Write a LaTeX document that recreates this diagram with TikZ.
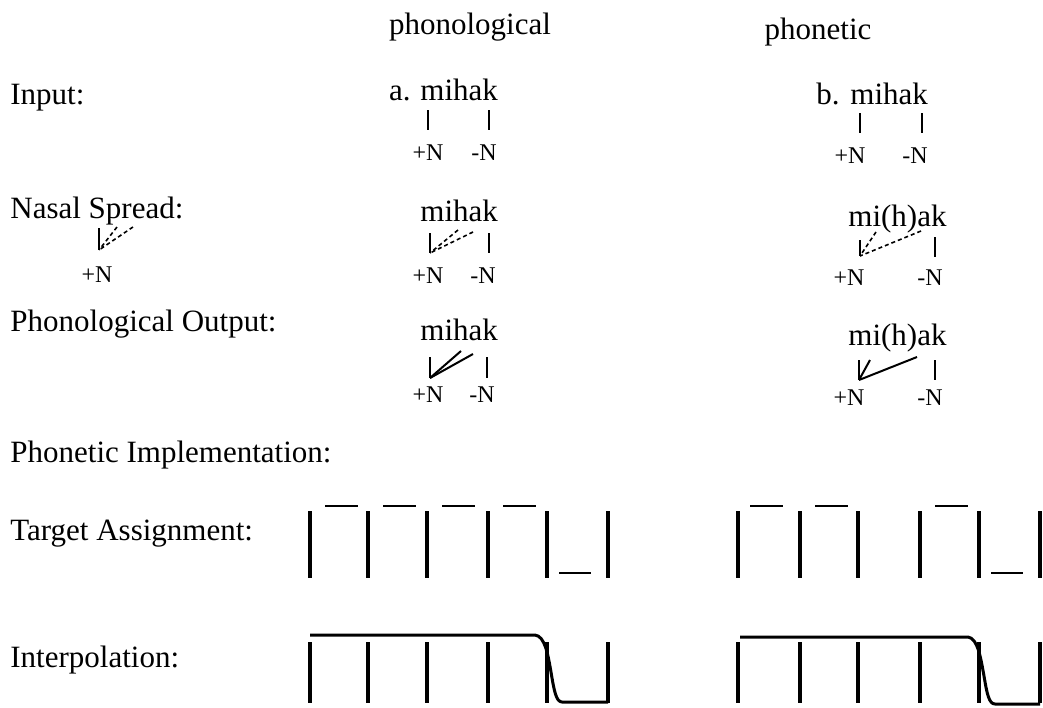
\documentclass[tikz,border=0pt]{standalone}
\usepackage{fontspec}
\setmainfont{Liberation Serif}
\usetikzlibrary{arrows.meta, positioning}
\newcommand{\rowfont}{\fontsize{15.5}{18}\selectfont}
\newcommand{\featfont}{\fontsize{12}{14}\selectfont}
\tikzstyle{rowlabel} = [anchor=base west, inner sep=0pt, font=\rowfont]
\tikzstyle{word} = [anchor=base, inner sep=0pt, font=\rowfont]
\tikzstyle{feature} = [anchor=base, inner sep=0pt, font=\featfont]
\tikzstyle{assoc} = [line width=0.9pt]
\tikzstyle{spreadline} = [line width=0.8pt, dash pattern=on 2pt off 1.5pt]
\tikzstyle{linked} = [line width=1pt]
\tikzstyle{slot} = [line width=2pt]
\tikzstyle{target} = [line width=1pt]
\tikzstyle{contour} = [line width=1.5pt, line join=round]

\begin{document}
\begin{tikzpicture}[x=0.5pt, y=-0.5pt]
    \fill[white] (0,0) rectangle (1043,707);
    \useasboundingbox (0,0) rectangle (1043,707);

    % Column heads
    \node[word] (headphon) at (470,34) {phonological};
    \node[word] (headphonet) at (818,39) {phonetic};

    % Row labels
    \node[rowlabel] (input) at (10,104) {Input:};
    \node[rowlabel] (nasal) at (10,218) {Nasal Spread:};
    \node[rowlabel] (output) at (10,331) {Phonological Output:};
    \node[rowlabel] (implem) at (10,462) {Phonetic Implementation:};
    \node[rowlabel] (targets) at (10,540) {Target Assignment:};
    \node[rowlabel] (interp) at (10,667) {Interpolation:};

    % Input, phonological
    \node[word, anchor=base east] (inamark) at (411,100) {a.};
    \node[word, anchor=base west] (inaword) at (420,100) {mihak};
    \node[feature] (inaplus) at (428,160) {+N};
    \node[feature] (inaminus) at (484,160) {-N};
    \coordinate (inam) at (428,110); \coordinate (inamN) at (428,130);
    \coordinate (inak) at (489,110); \coordinate (inakN) at (489,130);
    \draw[assoc] (inam) -- (inamN);
    \draw[assoc] (inak) -- (inakN);

    % Input, phonetic
    \node[word, anchor=base east] (inbmark) at (840,104) {b.};
    \node[word, anchor=base west] (inbword) at (850,104) {mihak};
    \node[feature] (inbplus) at (850,163) {+N};
    \node[feature] (inbminus) at (915,163) {-N};
    \coordinate (inbm) at (860,113); \coordinate (inbmN) at (860,133);
    \coordinate (inbk) at (922,113); \coordinate (inbkN) at (922,133);
    \draw[assoc] (inbm) -- (inbmN);
    \draw[assoc] (inbk) -- (inbkN);

    % Nasal spread rule
    \node[feature] (ruleplus) at (97,282) {+N};
    \coordinate (rulem) at (99,228); \coordinate (rulemN) at (99,250);
    \coordinate (rulei) at (117,227); \coordinate (ruleh) at (133,227);
    \draw[assoc] (rulem) -- (rulemN);
    \draw[spreadline] (rulei) -- (rulemN);
    \draw[spreadline] (ruleh) -- (rulemN);

    % Nasal spread, phonological
    \node[word, anchor=base west] (nsaword) at (420,221) {mihak};
    \node[feature] (nsaplus) at (428,283) {+N};
    \node[feature] (nsaminus) at (483,283) {-N};
    \coordinate (nsam) at (430,233); \coordinate (nsamN) at (430,253);
    \coordinate (nsah) at (458,230); \coordinate (nsaa) at (473,232);
    \coordinate (nsak) at (489,233); \coordinate (nsakN) at (489,253);
    \draw[assoc] (nsam) -- (nsamN);
    \draw[spreadline] (nsah) -- (nsamN);
    \draw[spreadline] (nsaa) -- (nsamN);
    \draw[assoc] (nsak) -- (nsakN);

    % Nasal spread, phonetic
    \node[word, anchor=base west] (nsbword) at (848,226) {mi(h)ak};
    \node[feature] (nsbplus) at (849,285) {+N};
    \node[feature] (nsbminus) at (930,285) {-N};
    \coordinate (nsbm) at (860,240); \coordinate (nsbmN) at (860,256);
    \coordinate (nsbi) at (876,232); \coordinate (nsba) at (921,231);
    \coordinate (nsbk) at (935,237); \coordinate (nsbkN) at (935,257);
    \draw[assoc] (nsbm) -- (nsbmN);
    \draw[spreadline] (nsbi) -- (nsbmN);
    \draw[spreadline] (nsba) -- (nsbmN);
    \draw[assoc] (nsbk) -- (nsbkN);

    % Phonological output, phonological
    \node[word, anchor=base west] (poaword) at (420,340) {mihak};
    \node[feature] (poaplus) at (428,402) {+N};
    \node[feature] (poaminus) at (482,402) {-N};
    \coordinate (poam) at (430,357); \coordinate (poamN) at (430,378);
    \coordinate (poah) at (461,351); \coordinate (poaa) at (473,354);
    \coordinate (poak) at (487,357); \coordinate (poakN) at (487,378);
    \draw[assoc] (poam) -- (poamN);
    \draw[linked] (poah) -- (poamN);
    \draw[linked] (poaa) -- (poamN);
    \draw[assoc] (poak) -- (poakN);

    % Phonological output, phonetic
    \node[word, anchor=base west] (pobword) at (848,345) {mi(h)ak};
    \node[feature] (pobplus) at (849,405) {+N};
    \node[feature] (pobminus) at (930,405) {-N};
    \coordinate (pobm) at (859,360); \coordinate (pobmN) at (859,380);
    \coordinate (pobi) at (870,360); \coordinate (poba) at (917,357);
    \coordinate (pobk) at (935,360); \coordinate (pobkN) at (935,380);
    \draw[assoc] (pobm) -- (pobmN);
    \draw[linked] (pobi) -- (pobmN);
    \draw[linked] (poba) -- (pobmN);
    \draw[assoc] (pobk) -- (pobkN);

    % Target assignment
    \foreach \x in {310,368,427,488,547,608,738,800,858,920,979,1040}
        \draw[slot] (\x,511) -- (\x,578);
    \foreach \x in {325,383,442,503,750,815,935}
        \draw[target] (\x,506) -- ++(33,0);
    \foreach \x in {559,991}
        \draw[target] (\x,573) -- ++(32,0);

    % Interpolation
    \foreach \x in {310,368,427,488,547,608,738,800,858,920,979,1040}
        \draw[slot] (\x,642) -- (\x,703);
    \draw[contour] (310,635) -- (535,635) .. controls (545,636) and (548,655) .. (551,672)
        .. controls (554,690) and (556,702) .. (562,702) -- (608,702);
    \draw[contour] (740,637) -- (968,637) .. controls (978,638) and (981,660) .. (984,676)
        .. controls (987,694) and (989,704) .. (995,704) -- (1040,704);
\end{tikzpicture}
\end{document}
